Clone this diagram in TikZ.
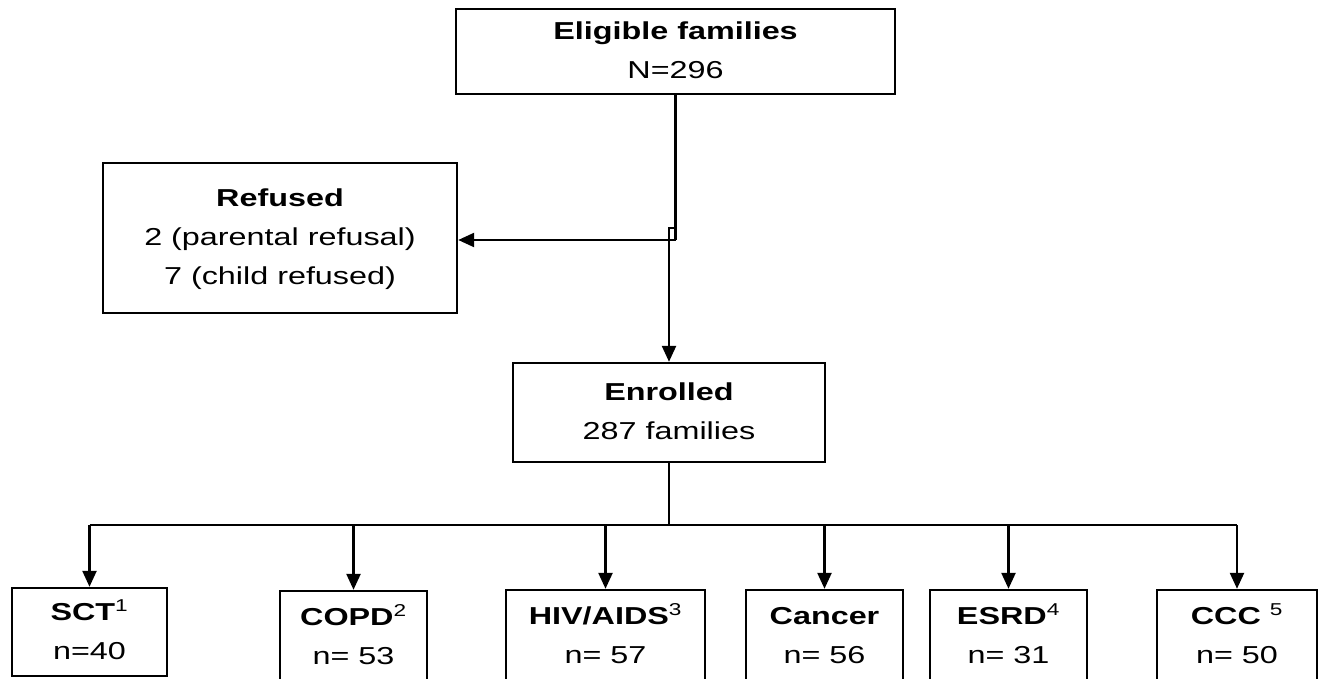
\documentclass[tikz,border=0pt]{standalone}
\usepackage{fontspec}
\setmainfont{Liberation Sans}
\usetikzlibrary{arrows.meta}
\newcommand{\boxtext}[2]{\scalebox{1.32}[1]{\fontsize{24.5}{39}\selectfont\begin{tabular}{@{}c@{}}\textbf{#1}\\#2\end{tabular}}}
\newcommand{\boxtextiii}[3]{\scalebox{1.32}[1]{\fontsize{24.5}{39}\selectfont\begin{tabular}{@{}c@{}}\textbf{#1}\\#2\\#3\end{tabular}}}
\newcommand{\sups}[1]{\textsuperscript{\mdseries #1}}
\tikzset{
  flowbox/.style={draw, line width=2.4pt, rectangle, inner sep=0pt, fill=white},
  link/.style={line width=2.4pt},
  arr/.style={line width=2.4pt, -{Triangle[width=14pt,length=16pt]}}
}
\begin{document}
\begin{tikzpicture}[x=1pt,y=-1pt]
\useasboundingbox (0,0) rectangle (1318,679);
\clip (0,0) rectangle (1318,679);
\fill[white] (0,0) rectangle (1318,679);

\node[flowbox, minimum width=439, minimum height=85] (top) at (675.5,51.5) {\boxtext{Eligible families}{N=296}};
\node[flowbox, minimum width=354, minimum height=150] (refused) at (280,238) {\boxtextiii{Refused}{2 (parental refusal)}{7 (child refused)}};
\node[flowbox, minimum width=312, minimum height=99] (enrolled) at (669,412.5) {\boxtext{Enrolled}{287 families}};

\node[flowbox, minimum width=155, minimum height=88] (sct) at (89.5,632) {\boxtext{SCT\sups{1}}{n=40}};
\node[flowbox, minimum width=147, minimum height=92] (copd) at (353.5,637) {\boxtext{COPD\sups{2}}{n= 53}};
\node[flowbox, minimum width=199, minimum height=92] (hiv) at (605.5,636) {\boxtext{HIV/AIDS\sups{3}}{n= 57}};
\node[flowbox, minimum width=157, minimum height=92] (cancer) at (824.5,636) {\boxtext{Cancer}{n= 56}};
\node[flowbox, minimum width=157, minimum height=92] (esrd) at (1008.5,636) {\boxtext{ESRD\sups{4}}{n= 31}};
\node[flowbox, minimum width=160, minimum height=92] (ccc) at (1237,636) {\boxtext{CCC \sups{5}}{n= 50}};

% top to refused / enrolled
\coordinate (jn) at (675.5,240);
\coordinate (hop) at (675.5,228);
\draw[link] (top.south) -- (jn);
\draw[arr] (jn) -- (refused.east |- jn);
\draw[arr] (hop) -| (enrolled.north);

% enrolled to groups
\coordinate (bus) at (669,525);
\draw[link] (enrolled.south) -- (bus);
\draw[link] (sct.north |- bus) -- (ccc.north |- bus);
\foreach \g in {sct,copd,hiv,cancer,esrd,ccc}
  \draw[arr] (\g.north |- bus) -- (\g.north);
\end{tikzpicture}
\end{document}
